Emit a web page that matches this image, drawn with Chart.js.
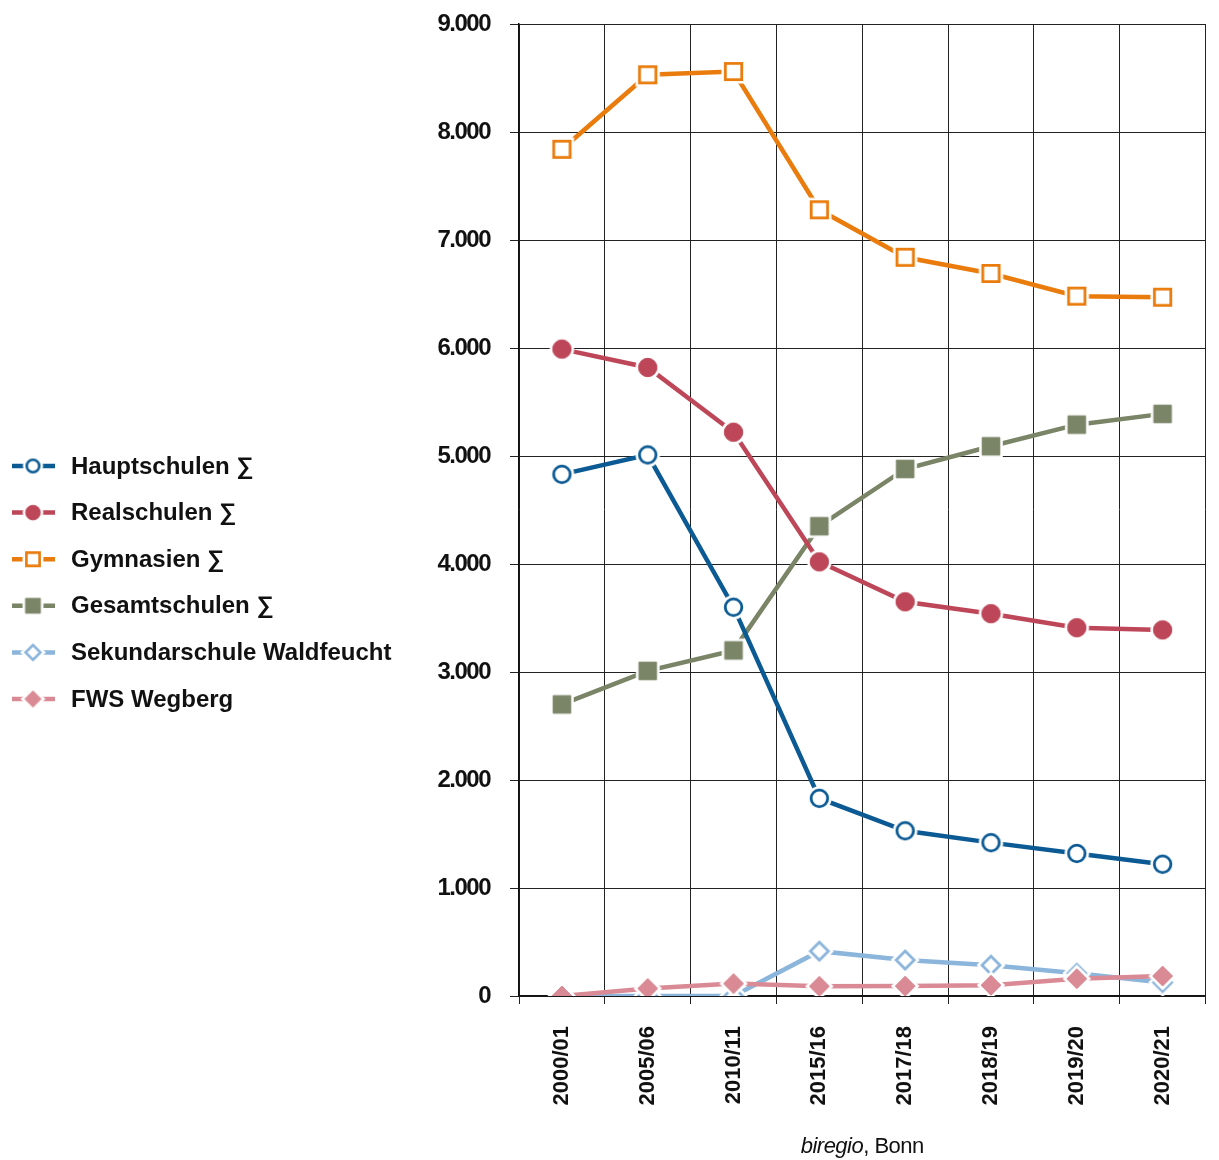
<!DOCTYPE html>
<html>
<head>
<meta charset="utf-8">
<script src="https://cdn.jsdelivr.net/npm/chart.js@4/dist/chart.umd.min.js"></script>
<style>
  html, body { margin: 0; padding: 0; background: #fff; }
  #chart { display: block; }
</style>
</head>
<body>
<canvas id="chart" width="1219" height="1160"></canvas>
<script>
const years = ['2000/01', '2005/06', '2010/11', '2015/16', '2017/18', '2018/19', '2019/20', '2020/21']
const hauptschulen = [4830, 5010, 3600, 1830, 1530, 1420, 1320, 1220]
const realschulen = [5990, 5820, 5220, 4020, 3650, 3540, 3410, 3390]
const gymnasien = [7840, 8530, 8560, 7280, 6840, 6690, 6480, 6470]
const gesamtschulen = [2700, 3010, 3200, 4350, 4880, 5090, 5290, 5390]
const sekundarschule = [0, 0, 0, 415, 333, 285, 210, 125]
const fwsWegberg = [0, 70, 115, 90, 92, 100, 160, 185]
const yTicks = [0, 1000, 2000, 3000, 4000, 5000, 6000, 7000, 8000, 9000]

const fmt = (v) => String(v).replace(/\B(?=(\d{3})+(?!\d))/g, '.')

// marker images with a white halo, so the line stops short of the symbol
const shapePath = (g, shape, m, s) => {
  g.beginPath()
  if (shape === 'circle') {
    g.arc(m, m, s, 0, Math.PI * 2)
  } else if (shape === 'square') {
    g.rect(m - s, m - s, 2 * s, 2 * s)
  } else {
    g.moveTo(m - s, m); g.lineTo(m, m - s); g.lineTo(m + s, m); g.lineTo(m, m + s); g.closePath()
  }
}

const makeMarker = (shape, color, filled, s, lw) => {
  const c = document.createElement('canvas')
  const d = Math.ceil(s * 2 + 18)
  c.width = d; c.height = d
  const g = c.getContext('2d')
  const m = d / 2
  g.lineJoin = 'miter'
  shapePath(g, shape, m, s)
  g.lineWidth = lw + 5; g.strokeStyle = '#fff'; g.stroke()
  g.fillStyle = filled ? color : '#fff'; g.fill()
  g.lineWidth = lw; g.strokeStyle = color; g.stroke()
  return c
}

const series = [
  { label: 'Hauptschulen \u2211', data: hauptschulen, color: '#0b5a94', shape: 'circle', filled: false, s: 8.3, ls: 6.3, order: 0 },
  { label: 'Realschulen \u2211', data: realschulen, color: '#bd4658', shape: 'circle', filled: true, s: 9.2, ls: 7.3, order: 1 },
  { label: 'Gymnasien \u2211', data: gymnasien, color: '#e97c0c', shape: 'square', filled: false, s: 8.2, ls: 6.6, order: 2 },
  { label: 'Gesamtschulen \u2211', data: gesamtschulen, color: '#7a8466', shape: 'square', filled: true, s: 8.8, ls: 7.4, order: 5 },
  { label: 'Sekundarschule Waldfeucht', data: sekundarschule, color: '#8cb5dc', shape: 'diamond', filled: false, s: 9, ls: 7.4, order: 4 },
  { label: 'FWS Wegberg', data: fwsWegberg, color: '#d98a95', shape: 'diamond', filled: true, s: 10, ls: 8.2, order: 3 }
]

series.forEach((sr) => {
  sr.marker = makeMarker(sr.shape, sr.color, sr.filled, sr.s, sr.filled ? 1 : 2.8)
  sr.legendMarker = makeMarker(sr.shape, sr.color, sr.filled, sr.ls, sr.filled ? 1 : 2.6)
})

const sideLegend = {
  id: 'sideLegend',
  afterDraw (chart) {
    const ctx = chart.ctx
    ctx.save()
    series.forEach((sr, i) => {
      const y = 466 + i * 46.6
      ctx.strokeStyle = sr.color
      ctx.lineWidth = 4.5
      ctx.beginPath(); ctx.moveTo(12, y); ctx.lineTo(55, y); ctx.stroke()
      const mk = sr.legendMarker
      ctx.drawImage(mk, 33 - mk.width / 2, y - mk.height / 2)
      ctx.fillStyle = '#111'
      ctx.font = 'bold 24px "Liberation Sans", Arial, sans-serif'
      ctx.textBaseline = 'middle'
      ctx.textAlign = 'left'
      ctx.fillText(sr.label, 71, y + 1)
    })
    ctx.restore()
  }
}

const sourceNote = {
  id: 'sourceNote',
  afterDraw (chart) {
    const ctx = chart.ctx
    const area = chart.chartArea
    const cx = (area.left + area.right) / 2
    ctx.save()
    ctx.fillStyle = '#111'
    ctx.textBaseline = 'alphabetic'
    ctx.textAlign = 'left'
    ctx.letterSpacing = '-0.5px'
    const f1 = 'italic 22px "Liberation Sans", Arial, sans-serif'
    const f2 = '22px "Liberation Sans", Arial, sans-serif'
    ctx.font = f1
    const w1 = ctx.measureText('biregio').width
    ctx.font = f2
    const w2 = ctx.measureText(', Bonn').width
    const x0 = cx - (w1 + w2) / 2
    ctx.font = f1
    ctx.fillText('biregio', x0, 1153)
    ctx.font = f2
    ctx.fillText(', Bonn', x0 + w1, 1153)
    ctx.restore()
  }
}

new Chart(document.getElementById('chart'), {
  type: 'line',
  data: {
    labels: years,
    datasets: series.map((sr) => ({
      label: sr.label,
      data: sr.data,
      order: sr.order,
      borderColor: sr.color,
      backgroundColor: sr.color,
      borderWidth: 4.5,
      pointStyle: sr.marker,
      pointRadius: 9,
      pointHoverRadius: 9,
      tension: 0,
      fill: false
    }))
  },
  options: {
    responsive: false,
    animation: false,
    layout: { padding: { left: 400, top: 24, right: 11, bottom: 0 } },
    plugins: {
      legend: { display: false },
      tooltip: { enabled: false }
    },
    scales: {
      x: {
        offset: true,
        afterFit: (scale) => { scale.height = 164 },
        grid: { color: '#222', lineWidth: 1, offset: true, tickLength: 8, tickColor: '#222' },
        border: { color: '#111', width: 1.5 },
        ticks: {
          autoSkip: false,
          minRotation: 90,
          maxRotation: 90,
          padding: 22,
          color: '#111',
          font: { family: '"Liberation Sans", Arial, sans-serif', size: 22, weight: 'bold' }
        }
      },
      y: {
        min: 0,
        max: 9000,
        afterBuildTicks: (scale) => { scale.ticks = yTicks.map((v) => ({ value: v })) },
        afterFit: (scale) => {
          scale.width = 119
          scale.paddingTop = 0
          scale.paddingBottom = 0
          if (!scale._spacingPatched) {
            const orig = scale.drawLabels
            scale.drawLabels = function (area) {
              this.ctx.save()
              this.ctx.letterSpacing = '-1.5px'
              orig.call(this, area)
              this.ctx.restore()
            }
            scale._spacingPatched = true
          }
        },
        grid: { color: '#222', lineWidth: 1, tickLength: 9, tickColor: '#222' },
        border: { color: '#111', width: 1.5 },
        ticks: {
          padding: 20,
          color: '#111',
          callback: (v) => fmt(v),
          font: { family: '"Liberation Sans", Arial, sans-serif', size: 24, weight: 'bold' }
        }
      }
    }
  },
  plugins: [sideLegend, sourceNote]
})
</script>
</body>
</html>
